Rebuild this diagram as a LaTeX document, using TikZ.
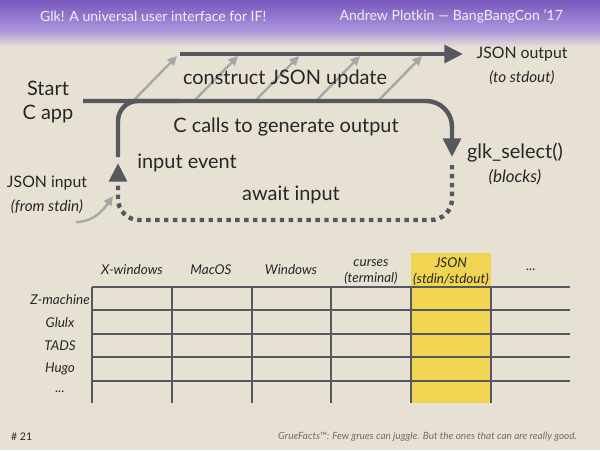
\documentclass[tikz,border=0pt]{standalone}
\usepackage{fontspec}
\setmainfont{Lato}
\usetikzlibrary{arrows.meta}
\definecolor{glkFondo}{HTML}{E7E1D4}
\definecolor{glkLila}{HTML}{7856BD}
\definecolor{glkLilaClaro}{HTML}{AD97DC}
\definecolor{glkGris}{HTML}{55595F}
\definecolor{glkGrisClaro}{HTML}{A6A6A6}
\definecolor{glkAmarillo}{HTML}{F0D452}
\definecolor{glkTexto}{HTML}{262626}
\definecolor{glkPie}{HTML}{7A6A5C}
\newcommand{\glkNota}{\fontsize{13}{16}\selectfont\itshape}

\begin{document}
\begin{tikzpicture}[x=0.03cm,y=-0.03cm,
    flujo/.style={line width=3.8pt,draw=glkGris,-{Triangle[length=16pt,width=15pt]}},
    linea/.style={line width=3.8pt,draw=glkGris},
    espera/.style={line width=3.8pt,draw=glkGris,dash pattern=on 3.8pt off 3.8pt,-{Triangle[length=16pt,width=15pt]}},
    envio/.style={line width=2pt,draw=glkGrisClaro,-{Triangle[length=8pt,width=7.5pt]}},
    etiq/.style={font=\fontsize{17}{21}\selectfont,text=glkTexto,align=center,inner sep=0pt},
    cabecera/.style={font=\fontsize{11.5}{13.5}\selectfont\itshape,text=glkTexto,align=center,inner sep=0pt},
    tabla/.style={line width=1.7pt,draw=glkGris}]
  % fondo y banda de titulo
  \fill[glkFondo] (0,0) rectangle (600,450);
  \useasboundingbox (0,0) rectangle (600,450);
  \shade[top color=glkLila,bottom color=glkLilaClaro] (0,0) rectangle (600,31);
  \shade[top color=glkLilaClaro,bottom color=glkFondo] (0,31) rectangle (600,47);
  \node[font=\fontsize{12}{14}\selectfont,text=white!90!glkLila,anchor=west] (titulo) at (36,16) {Glk! A universal user interface for IF!};
  \node[font=\fontsize{12}{14}\selectfont,text=white!90!glkLila,anchor=east] (autor) at (567,16) {Andrew Plotkin — BangBangCon ’17};

  \coordinate (outL) at (180,54);
  \coordinate (outR) at (463,54);
  \coordinate (mainL) at (83,101);
  \coordinate (selTop) at (452,157);
  \coordinate (selBot) at (452,165);
  \coordinate (loopTop) at (118,157);
  \coordinate (loopBot) at (118,163);
  \coordinate (inFrom) at (76,222);
  \coordinate (inTo) at (113,196);

  % flechas grises de salida
  \foreach \x in {133,194,255,316,378}
    {\draw[envio] (\x,101) -- ++(44,-45);}

  \draw[flujo] (outL) -- (outR);
  \draw[flujo,rounded corners=22pt] (mainL) -- (452,101) -- (selTop);
  \draw[linea,rounded corners=17pt] (loopTop) -- (118,101) -- (180,101);
  \draw[espera,rounded corners=18pt] (selBot) -- (452,220) -- (118,220) -- (loopBot);
  \draw[envio] (inFrom) .. controls (96,222) and (106,206) .. (inTo);

  % etiquetas del ciclo
  \node[etiq] (start) at (48,102) {Start\\C app};
  \node[etiq] (jout) at (522,66) {\fontsize{13.5}{20}\selectfont JSON output\\{\glkNota (to stdout)}};
  \node[etiq] (glk) at (515,164) {glk\_select()\\{\glkNota\fontsize{14.5}{17}\selectfont (blocks)}};
  \node[etiq] (jin) at (47,195) {\fontsize{13.5}{20}\selectfont JSON input\\{\glkNota (from stdin)}};
  \node[etiq] (construct) at (285,79) {construct JSON update};
  \node[etiq] (ccalls) at (286,127) {C calls to generate output};
  \node[etiq] (inevent) at (187,163) {input event};
  \node[etiq] (await) at (291,195) {await input};

  % tabla de plataformas
  \fill[glkAmarillo] (411,253) rectangle (491,403);
  \foreach \y in {287,310,334,357,381}
    {\draw[tabla] (92,\y) -- (570,\y);}
  \foreach \x in {92,172,252,331,411,491}
    {\draw[tabla] (\x,287) -- (\x,403);}

  \node[cabecera] (xwin) at (132,270) {X-windows};
  \node[cabecera] (macos) at (211,270) {MacOS};
  \node[cabecera] (windows) at (291,270) {Windows};
  \node[cabecera] (curses) at (371,272) {curses\\(terminal)};
  \node[cabecera] (json) at (451,272) {JSON\\(stdin/stdout)};
  \node[cabecera] (otros) at (531,270) {...};

  \node[cabecera] (zmach) at (60,300) {Z-machine};
  \node[cabecera] (glulx) at (60,323) {Glulx};
  \node[cabecera] (tads) at (60,346) {TADS};
  \node[cabecera] (hugo) at (60,369) {Hugo};
  \node[cabecera] (mas) at (60,392) {...};

  % pie
  \node[font=\fontsize{9}{11}\selectfont,text=glkTexto,anchor=west] (pagina) at (7,437) {\# 21};
  \node[font=\fontsize{8.5}{10}\selectfont\itshape,text=glkPie,anchor=east] (grue) at (581,437) {GrueFacts™: Few grues can juggle. But the ones that can are really good.};
\end{tikzpicture}
\end{document}
